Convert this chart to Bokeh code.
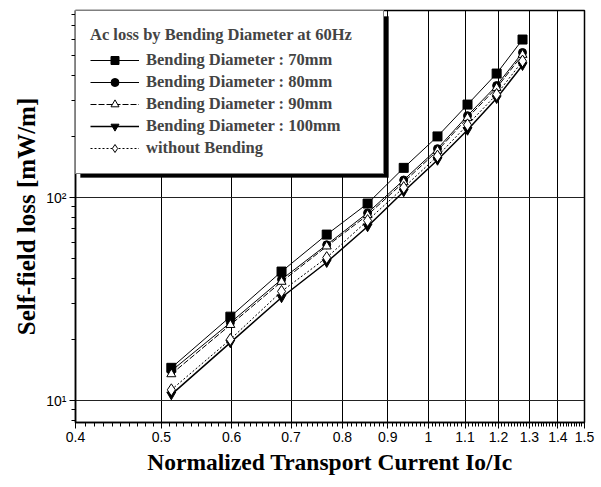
from bokeh.plotting import figure
from bokeh.models import (FixedTicker, CustomJSTickFormatter, Legend, LegendItem,
                          BoxAnnotation, Range1d)
from bokeh.embed import file_html
from bokeh.resources import INLINE

# ---- data ----
current = [0.513, 0.598, 0.683, 0.768, 0.854, 0.938, 1.024, 1.107, 1.194, 1.277]
loss_70mm = [14.5, 25.9, 43.2, 65.7, 93.4, 140, 200, 287, 408, 600]
loss_80mm = [14.0, 24.2, 39.5, 58.5, 84, 122, 174, 253, 356, 518]
loss_90mm = [13.5, 23.6, 38.5, 57.5, 82, 119, 170, 247, 347, 505]
loss_100mm = [10.7, 19.3, 32.2, 48.0, 72, 107, 153, 215, 308, 448]
loss_no_bend = [11.3, 20.0, 34.5, 50.6, 77, 112, 160, 228, 322, 470]

x_ticks = [0.4, 0.5, 0.6, 0.7, 0.8, 0.9, 1.0, 1.1, 1.2, 1.3, 1.4, 1.5]
x_tick_labels = ["0.4", "0.5", "0.6", "0.7", "0.8", "0.9", "1", "1.1", "1.2", "1.3", "1.4", "1.5"]
y_ticks = [10, 100]
y_tick_labels = ["10\u00b9", "10\u00b2"]
y_minor = [8, 9, 20, 30, 40, 50, 60, 70, 80, 90, 200, 300, 400, 500, 600, 700, 800]
x_minor = [round(0.4 + 0.01 * i, 2) for i in range(111) if i % 10 != 0]

SERIF = "Liberation Serif"
SANS = "Liberation Sans"

p = figure(width=601, height=487, x_axis_type="log", y_axis_type="log",
           x_range=Range1d(0.4, 1.5), y_range=Range1d(7.8, 834),
           output_backend="svg", toolbar_location=None,
           min_border_left=75, min_border_right=17, min_border_top=10, min_border_bottom=65)
p.background_fill_color = "white"
p.border_fill_color = "white"
p.outline_line_color = "black"
p.outline_line_width = 1.5

fmt_js = """
for (let i = 0; i < tvals.length; i++) {
  if (Math.abs(tvals[i] - tick) < 1e-6 * tvals[i]) return tlabels[i];
}
return '';
"""
p.xaxis.ticker = FixedTicker(ticks=x_ticks, minor_ticks=x_minor)
p.xaxis.formatter = CustomJSTickFormatter(args=dict(tvals=x_ticks, tlabels=x_tick_labels), code=fmt_js)
p.yaxis.ticker = FixedTicker(ticks=y_ticks, minor_ticks=y_minor)
p.yaxis.formatter = CustomJSTickFormatter(args=dict(tvals=y_ticks, tlabels=y_tick_labels), code=fmt_js)

for ax in (p.xaxis, p.yaxis):
    ax.axis_line_color = "black"
    ax.axis_line_width = 1.5
    ax.major_tick_line_color = "black"
    ax.minor_tick_line_color = "black"
    ax.major_tick_in = 0
    ax.major_tick_out = 6
    ax.minor_tick_in = 0
    ax.minor_tick_out = 4
    ax.major_label_text_font = SANS
    ax.major_label_text_font_size = "14px"
    ax.major_label_text_color = "black"
    ax.axis_label_text_font = SERIF
    ax.axis_label_text_font_style = "bold"
    ax.axis_label_text_color = "black"

p.xaxis.axis_label = "Normalized Transport Current Io/Ic"
p.yaxis.axis_label = "Self-field loss [mW/m]"
p.xaxis.axis_label_text_font_size = "23.5px"
p.yaxis.axis_label_text_font_size = "25px"
p.xaxis.major_label_standoff = 3
p.xaxis.axis_label_standoff = 4
p.yaxis.major_label_standoff = 3
p.yaxis.axis_label_standoff = 3

p.xgrid.grid_line_color = "black"
p.xgrid.grid_line_width = 1
p.ygrid.grid_line_color = "#222222"
p.ygrid.grid_line_width = 1

# ---- series ----
l70 = p.line(current, loss_70mm, line_color="black", line_width=1)
s70 = p.scatter(current, loss_70mm, marker="square", size=9, fill_color="black", line_color="black")
l80 = p.line(current, loss_80mm, line_color="black", line_width=1)
s80 = p.scatter(current, loss_80mm, marker="circle", size=8, fill_color="black", line_color="black")
l90 = p.line(current, loss_90mm, line_color="black", line_width=1, line_dash="6 2")
s90 = p.scatter(current, loss_90mm, marker="triangle", size=9, fill_color="white", line_color="black")
l100 = p.line(current, loss_100mm, line_color="black", line_width=1.5)
s100 = p.scatter(current, loss_100mm, marker="inverted_triangle", size=9, fill_color="black", line_color="black")
lnb = p.line(current, loss_no_bend, line_color="black", line_width=1, line_dash="2 2")
snb = p.scatter(current, loss_no_bend, marker="diamond", size=12, fill_color="white", line_color="black")

# legend shadow
shadow = BoxAnnotation(left=80, right=388, top=16, bottom=177,
                       left_units="canvas", right_units="canvas",
                       top_units="canvas", bottom_units="canvas",
                       fill_color="black", fill_alpha=1, line_color="black")
p.add_layout(shadow)

legend = Legend(items=[
    LegendItem(label="Bending Diameter : 70mm", renderers=[l70, s70]),
    LegendItem(label="Bending Diameter : 80mm", renderers=[l80, s80]),
    LegendItem(label="Bending Diameter : 90mm", renderers=[l90, s90]),
    LegendItem(label="Bending Diameter : 100mm", renderers=[l100, s100]),
    LegendItem(label="without Bending", renderers=[lnb, snb]),
], location="top_left", title="Ac loss by Bending Diameter at 60Hz")
legend.margin = 0
legend.padding = 14
legend.spacing = 0
legend.glyph_width = 49
legend.glyph_height = 20
legend.label_height = 22
legend.label_standoff = 7
legend.title_standoff = 4
legend.border_line_color = "black"
legend.border_line_width = 1.5
legend.background_fill_color = "white"
legend.background_fill_alpha = 1
legend.title_text_font = SERIF
legend.title_text_font_style = "bold"
legend.title_text_font_size = "16.5px"
legend.label_text_font = SERIF
legend.label_text_font_style = "bold"
legend.label_text_font_size = "16.5px"
legend.label_width = 223
p.add_layout(legend)

open("out.html", "w").write(file_html(p, INLINE))
